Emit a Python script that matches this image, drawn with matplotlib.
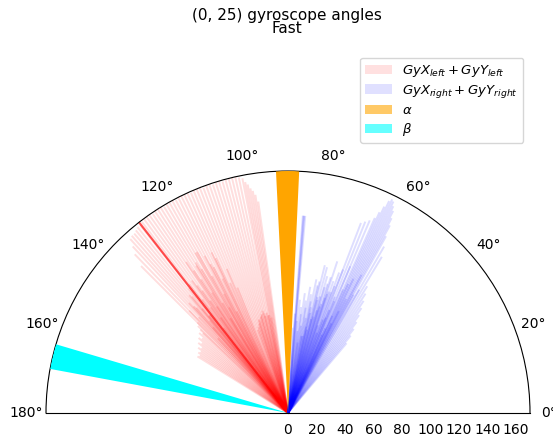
import numpy as np
import matplotlib
matplotlib.use('Agg')
import matplotlib.pyplot as plt
from matplotlib.patches import Patch

# red fan (left gyro): angle in degrees, magnitude
red_angles = [98, 98.5, 99, 99.5, 100, 100.5,
              101, 101.8, 102.6, 103.4, 104.2, 105, 105.8, 106.6, 107.4, 108.2,
              109, 109.8, 110.6, 111.4, 112.2, 113, 113.8, 114.6, 115.4, 116.2,
              117, 117.8, 118.6, 119.4, 120.2, 121, 121.8, 122.6, 123.4, 124.2,
              125, 125.8, 126.6, 127.4, 128, 128, 128, 128, 128, 128, 128, 128,
              128.2, 129, 129.8, 130.6, 131.4, 132.2, 133, 134, 135,
              112, 113, 114, 115, 116, 117, 118, 119, 120, 121, 122, 123, 124,
              125, 126, 127, 128.5, 129.5, 130, 131, 132, 133, 134, 135, 136,
              115.5, 117.5, 119.5, 121.5, 123.5, 125.5, 127.5, 129.5, 131.5,
              118.3, 120.7, 122.3, 124.7, 126.3, 128.7, 130.3,
              116.8, 119.2, 121.3, 123.8, 125.2, 127.2, 129.2, 131.2, 133.2,
              136.5, 137, 138, 139, 140, 141, 142, 143, 144, 145, 146, 147, 148,
              100, 101, 102, 103, 104, 105, 106, 107, 108, 109, 110,
              101.5, 103.5, 105.5, 107.5]
red_values = [150, 155, 158, 160, 163, 165,
              168, 169, 170, 170, 170, 170, 169, 170, 170, 169,
              170, 170, 169, 170, 170, 170, 169, 170, 170, 170,
              170, 169, 170, 170, 170, 169, 170, 170, 170, 169,
              170, 170, 170, 169, 170, 170, 170, 170, 170, 170, 170, 170,
              168, 168, 167, 166, 166, 165, 160, 155, 146,
              95, 110, 100, 120, 105, 115, 125, 110, 130, 118, 122, 112, 128,
              105, 115, 100, 112, 95, 108, 98, 104, 92, 100, 90, 88,
              125, 118, 130, 124, 120, 110, 114, 106, 100,
              95, 90, 100, 96, 92, 88, 85,
              80, 85, 78, 90, 82, 75, 88, 80, 72,
              85, 82, 84, 80, 82, 78, 80, 76, 78, 75, 76, 74, 75,
              68, 70, 72, 70, 74, 72, 70, 68, 66, 64, 62,
              70, 72, 71, 69]

# blue fan (right gyro)
blue_angles = [59, 60, 61, 61.5, 62, 62.5, 63, 63.5, 64, 64.5, 65, 65.5, 66, 67, 68, 69,
               50, 51, 52, 53, 54, 55, 56, 57, 58,
               60, 61, 62, 63, 64, 65, 66, 67, 68, 69, 70, 71, 72, 73, 74, 75,
               76, 77, 78, 79, 80, 81, 82, 83, 84, 85, 85.3, 85.5, 85.7, 86, 87,
               70.5, 72.5, 74.5, 76.5, 78.5, 80.5, 82.5, 84.5,
               63.5, 65.5, 67.5, 69.5, 71.5, 73.5, 75.5, 77.5, 79.5, 81.5, 83.5,
               66.5, 68.5, 71.2, 73.2, 75.2, 77.2, 79.2,
               64.2, 66.2, 68.2, 70.2, 72.2, 74.2, 76.2, 78.2, 80.2, 82.2,
               69.8, 71.8, 73.8, 75.8, 77.8]
blue_values = [128, 135, 142, 150, 155, 160, 163, 166, 167, 165, 160, 155, 150, 147, 145, 143,
               64, 70, 75, 80, 85, 90, 95, 100, 105,
               100, 95, 110, 90, 105, 100, 95, 112, 88, 108, 105, 98, 112, 95, 100, 106,
               107, 92, 96, 85, 90, 80, 85, 75, 80, 139, 139, 139, 139, 70, 60,
               90, 100, 85, 95, 80, 75, 70, 65,
               80, 75, 85, 70, 90, 78, 82, 72, 68, 62, 58,
               60, 72, 65, 80, 70, 60, 55,
               70, 65, 78, 60, 85, 75, 68, 62, 55, 50,
               95, 88, 92, 84, 76]

# reference angles (deg, width in deg)
alpha_angle = 90.1
alpha_width = 5.5
beta_angle = 166.5
beta_width = 6.0

r_max = 170

fig = plt.figure(figsize=(5.53, 4.41), dpi=100)
# square box: the half disc gets centred vertically inside it
ax = fig.add_axes([46 / 553, 1 - 534 / 441, 484 / 553, 484 / 441], projection='polar')
ax.set_thetamin(0)
ax.set_thetamax(180)

for a, v in zip(red_angles, red_values):
    t = np.deg2rad(a)
    ax.plot([t, t], [0, v], color='red', alpha=0.13, linewidth=1.4, solid_capstyle='butt')

for a, v in zip(blue_angles, blue_values):
    t = np.deg2rad(a)
    ax.plot([t, t], [0, v], color='blue', alpha=0.13, linewidth=1.4, solid_capstyle='butt')

ax.bar(np.deg2rad(alpha_angle), r_max, width=np.deg2rad(alpha_width), color='orange', zorder=3)
ax.bar(np.deg2rad(beta_angle), r_max, width=np.deg2rad(beta_width), color='cyan', zorder=3)

ax.set_ylim(0, r_max)
ax.set_xticks(np.deg2rad(np.arange(0, 181, 20)))
ax.set_yticks(np.arange(0, 161, 20))
ax.grid(False)
ax.tick_params(labelsize=10)

fig.text(287 / 553, 1 - 22 / 441, '(0, 25) gyroscope angles\nFast', ha='center', va='center',
         fontsize=11, linespacing=0.9)

handles = [Patch(facecolor='red', alpha=0.12, label='$GyX_{left} + GyY_{left}$'),
           Patch(facecolor='blue', alpha=0.12, label='$GyX_{right} + GyY_{right}$'),
           Patch(facecolor='orange', alpha=0.6, label=r'$\alpha$'),
           Patch(facecolor='cyan', alpha=0.6, label=r'$\beta$')]
fig.legend(handles=handles, loc='upper right', bbox_to_anchor=(530 / 553, 1 - 51 / 441),
           fontsize=9.5, labelspacing=0.3)

plt.savefig('out.png', dpi=100)
